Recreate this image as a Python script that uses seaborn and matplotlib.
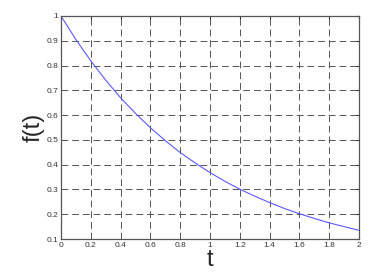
import matplotlib
matplotlib.use("Agg")
import matplotlib.pyplot as plt
import seaborn as sns
import pandas as pd

t_vals = [0.0, 0.1, 0.2, 0.3, 0.4, 0.5, 0.6, 0.7, 0.8, 0.9, 1.0,
          1.1, 1.2, 1.3, 1.4, 1.5, 1.6, 1.7, 1.8, 1.9, 2.0]
f_vals = [1.0, 0.905, 0.819, 0.741, 0.670, 0.607, 0.549, 0.497, 0.449, 0.407, 0.368,
          0.333, 0.301, 0.273, 0.247, 0.223, 0.202, 0.183, 0.165, 0.150, 0.135]
x_ticks = [0, 0.2, 0.4, 0.6, 0.8, 1, 1.2, 1.4, 1.6, 1.8, 2]
x_labels = ["0", "0.2", "0.4", "0.6", "0.8", "1", "1.2", "1.4", "1.6", "1.8", "2"]
y_ticks = [0.1, 0.2, 0.3, 0.4, 0.5, 0.6, 0.7, 0.8, 0.9, 1]
y_labels = ["0.1", "0.2", "0.3", "0.4", "0.5", "0.6", "0.7", "0.8", "0.9", "1"]

sns.set_style("white")
plt.rcParams['font.family'] = ['Liberation Sans', 'DejaVu Sans']

df = pd.DataFrame({"t": t_vals, "f": f_vals})
fig = plt.figure(figsize=(3.77, 2.8), dpi=100)
ax = fig.add_axes([61/377, 1 - 239/280, (359-61)/377, (239-16)/280])
sns.lineplot(data=df, x="t", y="f", ax=ax, color="#5a5aff", linewidth=0.8)
ax.set_xlim(0, 2)
ax.set_ylim(0.1, 1)
ax.set_xticks(x_ticks)
ax.set_xticklabels(x_labels)
ax.set_yticks(y_ticks)
ax.set_yticklabels(y_labels)
ax.grid(True, linestyle=(0, (7, 4)), color="#555555", linewidth=0.7)
ax.tick_params(direction="in", length=2.5, labelsize=6, colors="#333333", pad=2,
               top=True, right=True)
for s in ax.spines.values():
    s.set_color("#555555")
    s.set_linewidth(0.9)
ax.set_xlabel("t", fontsize=17, labelpad=0)
ax.set_ylabel("f(t)", fontsize=17, labelpad=1)
fig.savefig("out.png", dpi=100)
